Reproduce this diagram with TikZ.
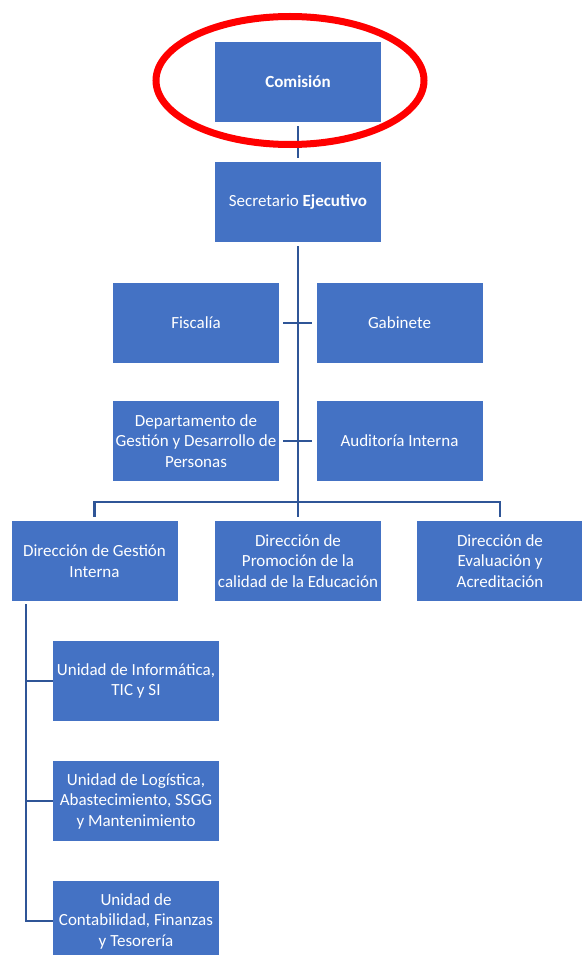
\documentclass[tikz,border=0pt]{standalone}
\usepackage{fontspec}
\setmainfont{Carlito}
\usetikzlibrary{arrows}
\definecolor{boxblue}{HTML}{4472C4}
\definecolor{lineblue}{HTML}{2F5597}
\begin{document}
\begin{tikzpicture}[x=1pt,y=-1pt,
  unit/.style={fill=boxblue, text=white, minimum width=166pt, minimum height=80pt,
    align=center, inner sep=0pt, font=\fontsize{17}{20.5}\selectfont},
  link/.style={draw=lineblue, line width=2.8pt}]
\useasboundingbox (0,0) rectangle (581,955);
\node [unit] (comision)     at (298,82)    {\textbf{Comisión}};
\node [unit] (secretario)   at (298,202)   {Secretario \textbf{Ejecutivo}};
\node [unit] (fiscalia)     at (196,323)   {Fiscalía};
\node [unit] (gabinete)     at (399.5,323) {Gabinete};
\node [unit] (personas)     at (196,441)   {Departamento de\\Gestión y Desarrollo de\\Personas};
\node [unit] (auditoria)    at (399.5,441) {Auditoría Interna};
\node [unit] (gestion)      at (94.5,561)  {Dirección de Gestión\\Interna};
\node [unit] (promocion)    at (298,561)   {Dirección de\\Promoción de la\\calidad de la Educación};
\node [unit] (evaluacion)   at (500,561)   {Dirección de\\Evaluación y\\Acreditación};
\node [unit] (informatica)  at (136,681)   {Unidad de Informática,\\TIC y SI};
\node [unit] (logistica)    at (136,801)   {Unidad de Logística,\\Abastecimiento, SSGG\\y Mantenimiento};
\node [unit] (contabilidad) at (136,921)   {Unidad de\\Contabilidad, Finanzas\\y Tesorería};
\coordinate (bus)   at (298,502);
\coordinate (spine) at (26,604);
\draw [link,shorten <=4pt,shorten >=4pt] (comision) -- (secretario);
\draw [link,shorten <=4pt] (secretario) -- (bus);
\draw [link,shorten <=4pt,shorten >=4pt] (fiscalia) -- (gabinete);
\draw [link,shorten <=4pt,shorten >=4pt] (personas) -- (auditoria);
\draw [link,shorten >=4pt] (bus) -| (gestion);
\draw [link,shorten >=4pt] (bus) -- (promocion);
\draw [link,shorten >=4pt] (bus) -| (evaluacion);
\draw [link] (spine) |- (informatica);
\draw [link] (spine) |- (logistica);
\draw [link] (spine) |- (contabilidad);
\draw [red,line width=7pt] (290,80.5) ellipse [x radius=134pt, y radius=64pt];
\end{tikzpicture}
\end{document}
